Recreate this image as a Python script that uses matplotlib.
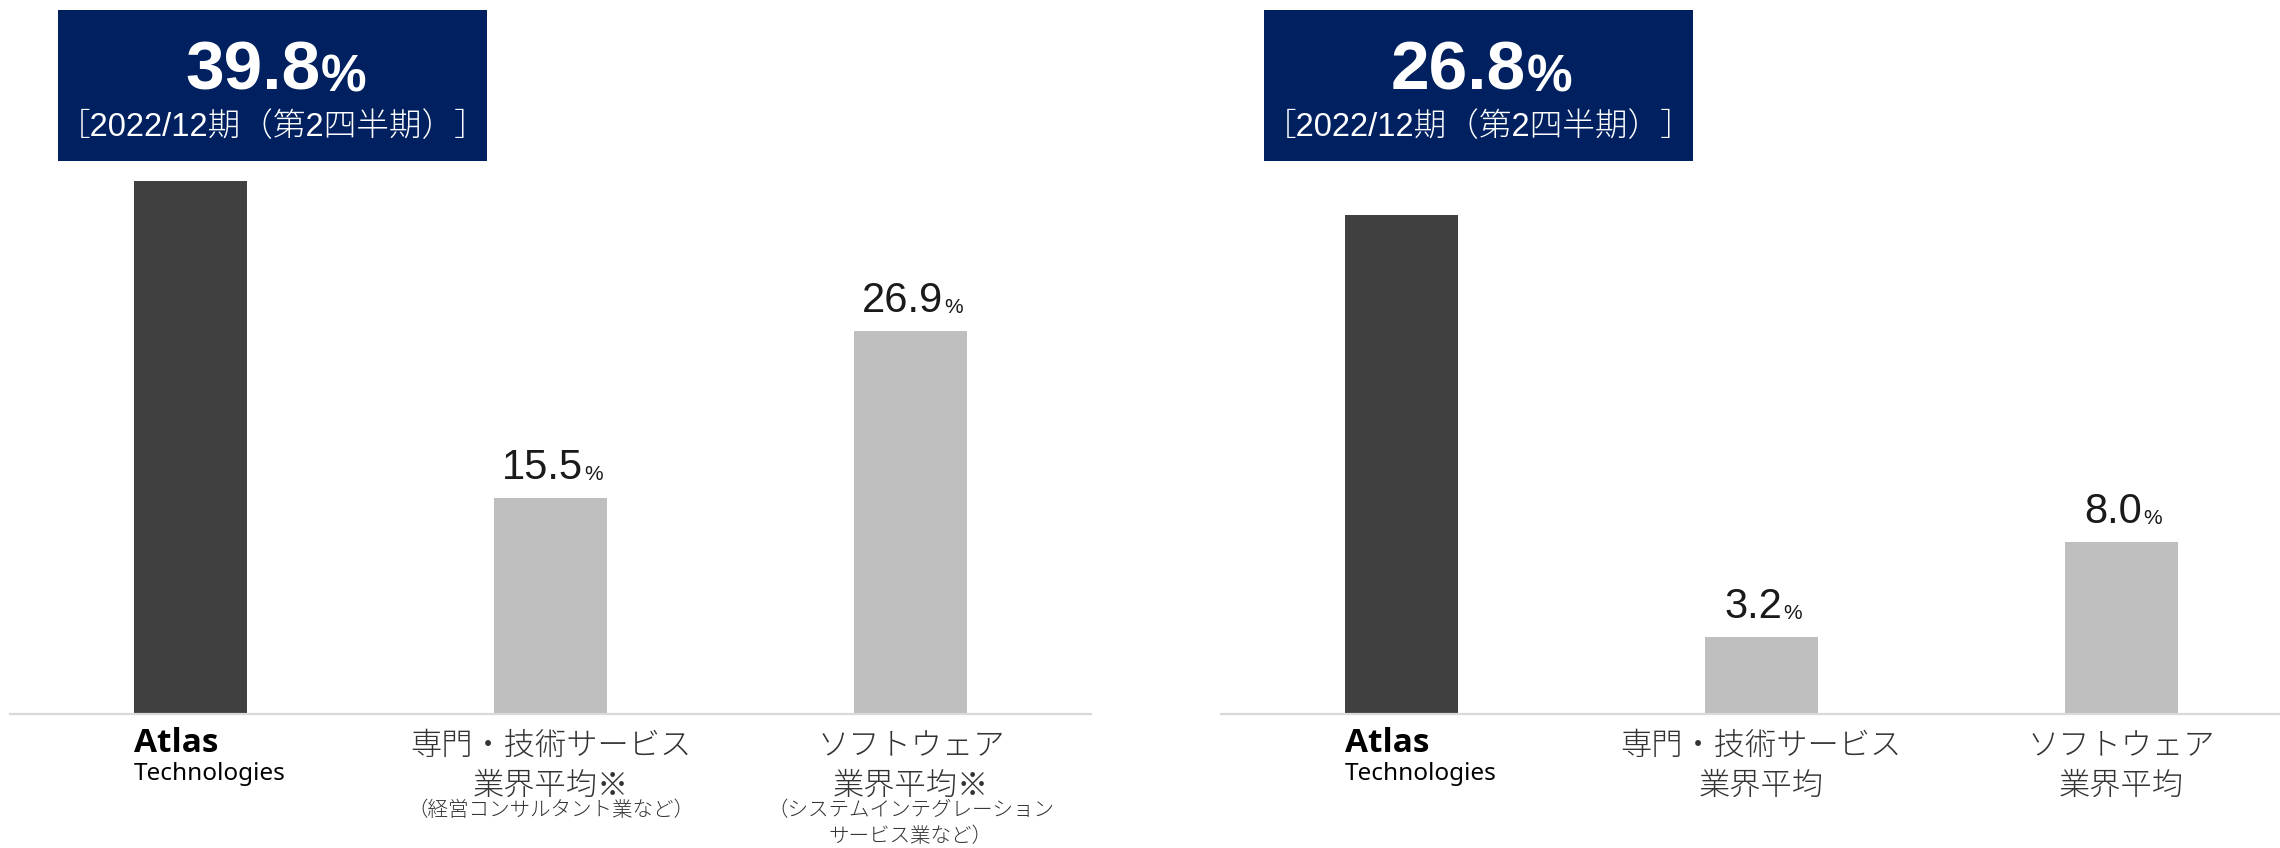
import matplotlib
matplotlib.use("Agg")
import matplotlib.pyplot as plt
from matplotlib import font_manager as fm
from matplotlib.patches import Rectangle
from matplotlib.text import Annotation
from matplotlib.transforms import blended_transform_factory

# ---------------- data ----------------
company_name = ["Atlas", "Technologies"]
categories_left = ["", "専門・技術サービス\n業界平均※", "ソフトウェア\n業界平均※"]
notes_left = ["", "（経営コンサルタント業など）", "（システムインテグレーション\nサービス業など）"]
categories_right = ["", "専門・技術サービス\n業界平均", "ソフトウェア\n業界平均"]
values_left = [39.8, 15.5, 26.9]
values_right = [26.8, 3.2, 8.0]
# drawn bar heights (first bar is not to scale)
bar_heights_left = [38.2, 15.5, 27.5]
bar_heights_right = [23.2, 3.6, 8.0]
headline_left = 39.8
headline_right = 26.8
period_label = "［2022/12期（第2四半期）］"

# ---------------- fonts ----------------
entries = fm.fontManager.ttflist
names = {f.name for f in entries}
NARROW = "Liberation Sans Narrow" if "Liberation Sans Narrow" in names else "Liberation Sans"
JP = "Noto Sans CJK JP"
NUMF = [NARROW, JP, "DejaVu Sans"]
JPF = [JP, "DejaVu Sans"]


def has_bold(name):
    for f in entries:
        if f.name == name:
            w = f.weight
            if isinstance(w, str):
                if w in ("bold", "heavy", "black", "semibold", "demibold", "extra bold"):
                    return True
            elif w >= 600:
                return True
    return False


BOLDLAT = "DejaVu Sans"
for cand in ["Ubuntu", "Open Sans", "Noto Sans", "Lato", "Roboto"]:
    if cand in names and has_bold(cand):
        BOLDLAT = cand
        break
LATF = ["Noto Sans", "DejaVu Sans"]

W, H = 2280, 848
fig = plt.figure(figsize=(W / 100, H / 100), dpi=100)
fig.patch.set_facecolor("white")

DARK = "#404040"
LIGHT = "#bfbfbf"
NAVY = "#002060"
TXT = "#1a1a1a"


def fy(ypix):
    return 1 - ypix / H


def fx(xpix):
    return xpix / W


def panel(x0, x1, ymax, xmax, heights, values, cats, notes, headline, box):
    base = 714
    ax = fig.add_axes([fx(x0), fy(base), fx(x1) - fx(x0), 1 - fy(base)])
    xs = list(range(len(heights)))
    colors = [DARK] + [LIGHT] * (len(heights) - 1)
    bw = 0.314
    ax.bar(xs, heights, width=bw, color=colors, zorder=2)
    ax.set_xlim(-0.5, xmax)
    ax.set_ylim(0, ymax)
    for s in ["top", "right", "left"]:
        ax.spines[s].set_visible(False)
    ax.spines["bottom"].set_color("#d9d9d9")
    ax.spines["bottom"].set_linewidth(1.6)
    ax.set_xticks([])
    ax.set_yticks([])
    ax.patch.set_alpha(0)

    tr = blended_transform_factory(ax.transData, fig.transFigure)

    # value labels for the comparison bars
    for i in range(1, len(heights)):
        num = ax.annotate(f"{values[i]:.1f}", xy=(xs[i], heights[i]), xytext=(-8, 19),
                          textcoords="offset pixels", ha="center", va="baseline",
                          fontsize=30, family=NUMF, color=TXT)
        ax.annotate("%", xy=(1, 0), xycoords=num, xytext=(1, 4), textcoords="offset pixels",
                    ha="left", va="bottom", fontsize=15, family=NUMF, color=TXT)

    # company label
    xl = xs[0] - bw / 2
    ax.text(xl, fy(752), company_name[0], transform=tr, ha="left", va="baseline",
            fontsize=24, fontweight="bold", family=[BOLDLAT, "DejaVu Sans"], color="black")
    ax.text(xl, fy(780), company_name[1], transform=tr, ha="left", va="baseline",
            fontsize=17.5, family=LATF, color="black")

    # category labels
    for i in range(1, len(cats)):
        lines = cats[i].split("\n")
        for j, ln in enumerate(lines):
            ax.text(xs[i], fy(746 + 40 * j), ln, transform=tr, ha="center", va="center",
                    fontsize=22.5, family=JPF, fontweight="light", color="#333333")
        if notes and notes[i]:
            for j, ln in enumerate(notes[i].split("\n")):
                ax.text(xs[i], fy(811 + 25 * j), ln, transform=tr, ha="center", va="center",
                        fontsize=14.8, family=JPF, fontweight="light", color="#333333")

    # headline box
    bx0, by0, bx1, by1 = box
    fig.patches.append(Rectangle((fx(bx0), fy(by1)), fx(bx1) - fx(bx0), fy(by0) - fy(by1),
                                 transform=fig.transFigure, facecolor=NAVY, edgecolor="none",
                                 zorder=3))
    cx = fx((bx0 + bx1) / 2)
    hn = fig.text(cx - fx(20), fy(89), f"{headline:.1f}", ha="center", va="baseline",
                  fontsize=50, fontweight="bold", family=NUMF, color="white", zorder=4)
    pct = Annotation("%", xy=(1, 0), xycoords=hn, xytext=(1, 1), textcoords="offset pixels",
                     ha="left", va="bottom", fontsize=37, fontweight="bold", family=NUMF,
                     color="white", annotation_clip=False)
    pct.set_zorder(5)
    fig.add_artist(pct)
    fig.text(cx, fy(136), period_label, ha="center", va="baseline", fontsize=23.5,
             family=NUMF, fontweight="light", color="white", zorder=4)
    return ax


panel(10, 1091, 714 / 13.94, 2.5, bar_heights_left, values_left, categories_left,
      notes_left, headline_left, (58, 10, 487, 161))
panel(1221, 2280, 714 / 21.5, 2.44, bar_heights_right, values_right, categories_right,
      None, headline_right, (1264, 10, 1693, 161))

fig.savefig("out.png", dpi=100, facecolor="white")
